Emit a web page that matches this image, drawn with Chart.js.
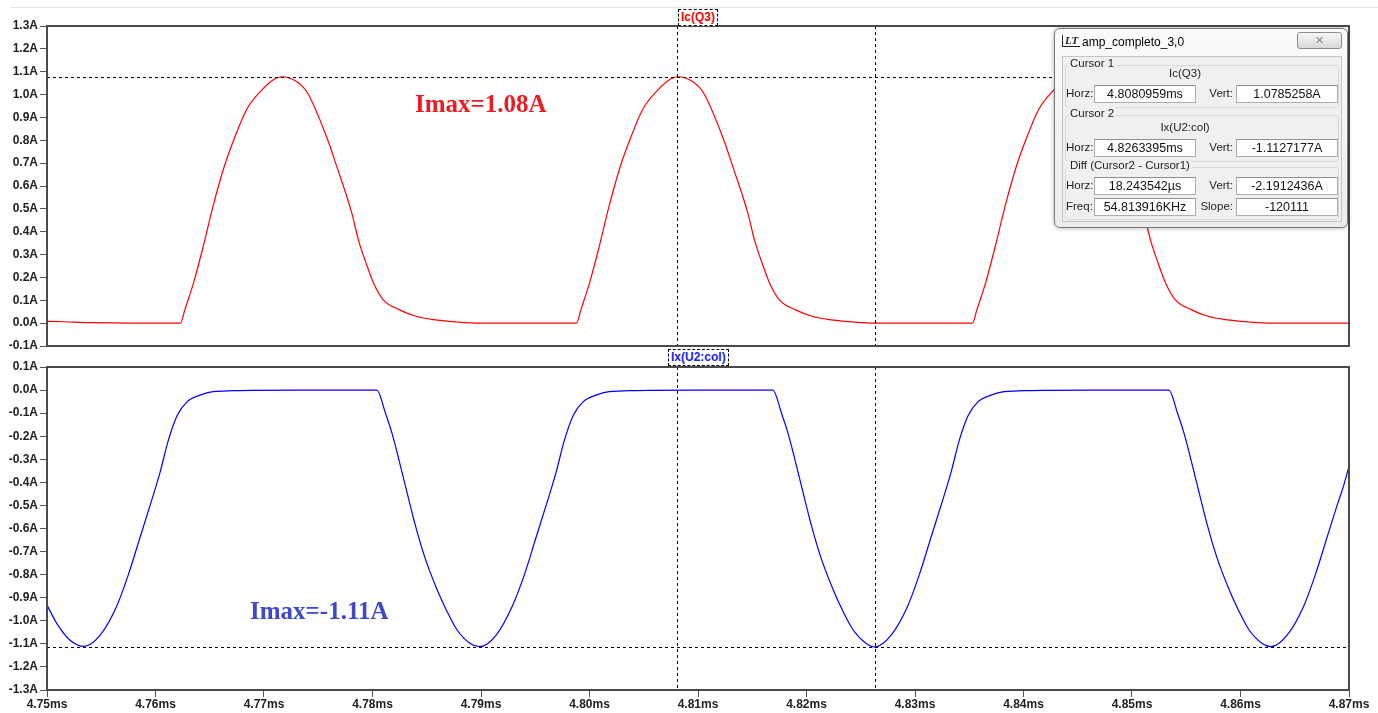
<!DOCTYPE html>
<html>
<head>
<meta charset="utf-8">
<script src="https://cdn.jsdelivr.net/npm/chart.js@4.4.1/dist/chart.umd.min.js"></script>
<style>
  body { margin: 0; background: #fff; width: 1378px; height: 713px; overflow: hidden; position: relative; font-family: "Liberation Sans", Arial, sans-serif; }
  canvas { position: absolute; left: 0; }
  .abs { position: absolute; white-space: nowrap; }
  .trace { font-size: 12px; font-weight: bold; border: 1px dashed #000; padding: 0 2px; line-height: 15px; background: #fff; }
  .imax { font-family: "Liberation Serif", "Times New Roman", serif; font-weight: bold; font-size: 25px; line-height: 1; }
  #dlg { left: 1054px; top: 28px; width: 292px; height: 198px; border: 1px solid #7a7a7a; border-radius: 6px;
         background: linear-gradient(#fbfbfb, #ececec); box-shadow: 0 0 4px rgba(0,0,0,0.35); }
  .panel { background: #f0f0f0; border: 1px solid #c4c4c4; }
  .group { border: 1px solid #d4d9dc; border-radius: 3px; }
  .glabel { background: #f0f0f0; padding: 0 2px; }
  .lbl { font-size: 11.5px; color: #222; }
  .field { background: #fff; border: 1px solid #abadb3; border-top-color: #8e8f8f; text-align: center; line-height: 16px; font-size: 12.5px; color: #111; }
</style>
</head>
<body>
<div class="abs" style="left:10px; top:7px; width:1368px; height:1px; background:#e6e6e6;"></div>
<canvas id="topChart" width="1378" height="360" style="top:0;"></canvas>
<canvas id="botChart" width="1378" height="363" style="top:350px;"></canvas>

<div class="abs trace" style="left:678px; top:9px; color:#ff0000;">Ic(Q3)</div>
<div class="abs trace" style="left:668px; top:349px; color:#2020ff;">Ix(U2:col)</div>
<div class="abs imax" style="left:415px; top:91px; color:#ed1c24;">Imax=1.08A</div>
<div class="abs imax" style="left:250px; top:598px; color:#3f48cc;">Imax=-1.11A</div>

<div id="dlg" class="abs"></div>
<div class="abs" style="left:1062px; top:35px; font: italic bold 11px 'Liberation Serif', serif; color:#222; border-left:1px solid #222; border-bottom:1px solid #222; padding:0 2px; line-height:11px;">LT</div>
<div class="abs" style="left:1082px; top:35px; font-size:12px;">amp_completo_3,0</div>
<div class="abs" style="left:1297px; top:32px; width:43px; height:15px; border:1px solid #8c8c8c; border-radius:3px; background:linear-gradient(#f6f6f6,#d9d9d9); text-align:center; font:11px 'DejaVu Sans', sans-serif; line-height:15px; color:#888;">✕</div>
<div class="abs panel" style="left:1062px; top:56px; width:278px; height:164px;"></div>

<div class="abs group" style="left:1065px; top:65px; width:272px; height:41px;"></div>
<div class="abs glabel lbl" style="left:1068px; top:57px;">Cursor 1</div>
<div class="abs lbl" style="left:1135px; top:67px; width:100px; text-align:center;">Ic(Q3)</div>
<div class="abs lbl" style="left:1066px; top:87px;">Horz:</div>
<div class="abs field" style="left:1094px; top:85px; width:100px; height:16px;">4.8080959ms</div>
<div class="abs lbl" style="left:1206px; top:87px; width:27px; text-align:right;">Vert:</div>
<div class="abs field" style="left:1236px; top:85px; width:100px; height:16px;">1.0785258A</div>

<div class="abs group" style="left:1065px; top:115px; width:272px; height:45px;"></div>
<div class="abs glabel lbl" style="left:1068px; top:107px;">Cursor 2</div>
<div class="abs lbl" style="left:1135px; top:121px; width:100px; text-align:center;">Ix(U2:col)</div>
<div class="abs lbl" style="left:1066px; top:141px;">Horz:</div>
<div class="abs field" style="left:1094px; top:139px; width:100px; height:16px;">4.8263395ms</div>
<div class="abs lbl" style="left:1206px; top:141px; width:27px; text-align:right;">Vert:</div>
<div class="abs field" style="left:1236px; top:139px; width:100px; height:16px;">-1.1127177A</div>

<div class="abs group" style="left:1065px; top:167px; width:272px; height:51px;"></div>
<div class="abs glabel lbl" style="left:1068px; top:159px;">Diff (Cursor2 - Cursor1)</div>
<div class="abs lbl" style="left:1066px; top:179px;">Horz:</div>
<div class="abs field" style="left:1094px; top:177px; width:100px; height:16px;">18.243542µs</div>
<div class="abs lbl" style="left:1206px; top:179px; width:27px; text-align:right;">Vert:</div>
<div class="abs field" style="left:1236px; top:177px; width:100px; height:16px;">-2.1912436A</div>
<div class="abs lbl" style="left:1066px; top:200px;">Freq:</div>
<div class="abs field" style="left:1094px; top:198px; width:100px; height:16px;">54.813916KHz</div>
<div class="abs lbl" style="left:1196px; top:200px; width:37px; text-align:right;">Slope:</div>
<div class="abs field" style="left:1236px; top:198px; width:100px; height:16px;">-120111</div>

<script>
// time axis in ms
const xMin = 4.75, xMax = 4.87, xStep = 0.01;

// Ic(Q3), top pane
const icTime = [
  4.7500, 4.7515, 4.7540, 4.7577, 4.7623,
  4.7627, 4.7635, 4.7644, 4.7653, 4.7663, 4.7672, 4.7684, 4.7697, 4.7709, 4.7716,
  4.7730, 4.7740, 4.7758, 4.7767, 4.7781, 4.7787, 4.7795, 4.7801, 4.7810, 4.7825,
  4.7840, 4.7856, 4.7878, 4.7899, 4.7988,
  4.7992, 4.8000, 4.8009, 4.8018, 4.8028, 4.8037, 4.8049, 4.8062, 4.8074, 4.8081,
  4.8095, 4.8105, 4.8123, 4.8132, 4.8146, 4.8152, 4.8160, 4.8166, 4.8175, 4.8190,
  4.8205, 4.8221, 4.8243, 4.8264, 4.8353,
  4.8357, 4.8365, 4.8374, 4.8383, 4.8393, 4.8402, 4.8414, 4.8427, 4.8439, 4.8446,
  4.8460, 4.8470, 4.8488, 4.8497, 4.8511, 4.8517, 4.8525, 4.8531, 4.8540, 4.8555,
  4.8570, 4.8586, 4.8608, 4.8629, 4.8700
];
const icQ3 = [
  0.008, 0.006, 0.002, 0.000, 0.000,
  0.058, 0.175, 0.336, 0.511, 0.680, 0.800, 0.935, 1.015, 1.066, 1.078,
  1.057, 1.008, 0.811, 0.686, 0.480, 0.364, 0.250, 0.175, 0.102, 0.058,
  0.030, 0.015, 0.005, 0.000, 0.000,
  0.058, 0.175, 0.336, 0.511, 0.680, 0.800, 0.935, 1.015, 1.066, 1.078,
  1.057, 1.008, 0.811, 0.686, 0.480, 0.364, 0.250, 0.175, 0.102, 0.058,
  0.030, 0.015, 0.005, 0.000, 0.000,
  0.058, 0.175, 0.336, 0.511, 0.680, 0.800, 0.935, 1.015, 1.066, 1.078,
  1.057, 1.008, 0.811, 0.686, 0.480, 0.364, 0.250, 0.175, 0.102, 0.058,
  0.030, 0.015, 0.005, 0.000, 0.000
];

// Ix(U2:col), bottom pane
const ixTime = [
  4.7500, 4.7509, 4.7521, 4.7534, 4.7549, 4.7564, 4.7575, 4.7585, 4.7595, 4.7604,
  4.7612, 4.7620, 4.7629, 4.7641, 4.7653, 4.7678, 4.7730, 4.7804,
  4.7812, 4.7818, 4.7829, 4.7839, 4.7848, 4.7859, 4.7868, 4.7878, 4.7890, 4.7899,
  4.7914, 4.7929, 4.7940, 4.7950, 4.7960, 4.7969, 4.7977, 4.7985, 4.7994, 4.8006,
  4.8018, 4.8043, 4.8095, 4.8169,
  4.8177, 4.8183, 4.8194, 4.8204, 4.8213, 4.8224, 4.8233, 4.8243, 4.8255, 4.8263,
  4.8278, 4.8293, 4.8304, 4.8314, 4.8324, 4.8333, 4.8341, 4.8349, 4.8358, 4.8370,
  4.8382, 4.8407, 4.8460, 4.8534,
  4.8542, 4.8548, 4.8559, 4.8569, 4.8578, 4.8589, 4.8598, 4.8608, 4.8620, 4.8628,
  4.8643, 4.8658, 4.8669, 4.8679, 4.8689, 4.8695, 4.8700
];
const ixU2 = [
  -0.932, -1.011, -1.083, -1.111, -1.062, -0.939, -0.800, -0.650, -0.500, -0.360,
  -0.215, -0.110, -0.051, -0.022, -0.007, -0.002, 0.000, 0.000,
  -0.101, -0.188, -0.390, -0.578, -0.722, -0.859, -0.953, -1.040, -1.098, -1.112,
  -1.062, -0.935, -0.800, -0.650, -0.500, -0.360, -0.215, -0.110, -0.051, -0.022,
  -0.007, -0.002, 0.000, 0.000,
  -0.101, -0.188, -0.390, -0.578, -0.722, -0.859, -0.953, -1.040, -1.098, -1.113,
  -1.062, -0.939, -0.800, -0.650, -0.500, -0.360, -0.215, -0.110, -0.051, -0.022,
  -0.007, -0.002, 0.000, 0.000,
  -0.101, -0.188, -0.390, -0.578, -0.722, -0.859, -0.953, -1.040, -1.098, -1.112,
  -1.062, -0.939, -0.800, -0.650, -0.500, -0.415, -0.330
];

// cursor readout
const cursorX = [4.8080959, 4.8263395];
const cursor1Y = 1.0785258;
const cursor2Y = -1.1127177;

const tickFont = { family: "'Liberation Sans', Arial, sans-serif", size: 12, weight: 'bold' };

const frameAndCursors = {
  id: 'frameAndCursors',
  afterDatasetsDraw(chart, args, opts) {
    const { ctx, chartArea: a, scales } = chart;
    ctx.save();
    ctx.strokeStyle = '#000';
    ctx.lineWidth = 1;
    ctx.setLineDash([3, 3]);
    const hy = Math.round(scales.y.getPixelForValue(opts.y)) + 0.5;
    ctx.beginPath();
    ctx.moveTo(a.left, hy);
    ctx.lineTo(a.right, hy);
    opts.xs.forEach(v => {
      const px = Math.round(scales.x.getPixelForValue(v)) + 0.5;
      ctx.moveTo(px, a.top);
      ctx.lineTo(px, a.bottom);
    });
    ctx.stroke();
    ctx.setLineDash([]);
    ctx.strokeStyle = '#4a4a4a';
    ctx.lineWidth = 2;
    ctx.strokeRect(a.left, a.top, a.right - a.left, a.bottom - a.top);
    ctx.restore();
  }
};

function yAxis(min, max) {
  return {
    type: 'linear', min, max,
    afterFit: s => { s.width = 47; },
    grid: { drawOnChartArea: false, drawTicks: true, tickLength: 7, color: '#555' },
    border: { display: false },
    ticks: {
      stepSize: 0.1, padding: 2, color: '#222', font: tickFont,
      callback: v => (Math.abs(v) < 1e-9 ? 0 : v).toFixed(1) + 'A'
    }
  };
}

function makeChart(id, time, values, color, yMin, yMax, hy, showX, pad) {
  new Chart(document.getElementById(id).getContext('2d'), {
    type: 'line',
    data: {
      datasets: [{
        data: time.map((t, i) => ({ x: t, y: values[i] })),
        borderColor: color,
        borderWidth: 1.2,
        pointRadius: 0,
        cubicInterpolationMode: 'monotone',
        fill: false
      }]
    },
    options: {
      responsive: false,
      animation: false,
      devicePixelRatio: 1,
      layout: { padding: pad },
      plugins: {
        legend: { display: false },
        tooltip: { enabled: false },
        frameAndCursors: { xs: cursorX, y: hy }
      },
      scales: {
        x: {
          type: 'linear', min: xMin, max: xMax,
          display: showX,
          afterFit: s => { s.height = showX ? 23 : 0; },
          grid: { drawOnChartArea: false, drawTicks: true, tickLength: 7, color: '#555' },
          border: { display: false },
          ticks: {
            stepSize: xStep, padding: 0, autoSkip: false, maxRotation: 0,
            color: '#222', font: tickFont,
            callback: v => v.toFixed(2) + 'ms'
          }
        },
        y: yAxis(yMin, yMax)
      }
    },
    plugins: [frameAndCursors]
  });
}

makeChart('topChart', icTime, icQ3, '#ff0000', -0.1, 1.3, cursor1Y, false,
  { top: 26, bottom: 14, left: 0, right: 29 });
makeChart('botChart', ixTime, ixU2, '#0000ff', -1.3, 0.1, cursor2Y, true,
  { top: 17, bottom: 0, left: 0, right: 29 });
</script>
</body>
</html>
